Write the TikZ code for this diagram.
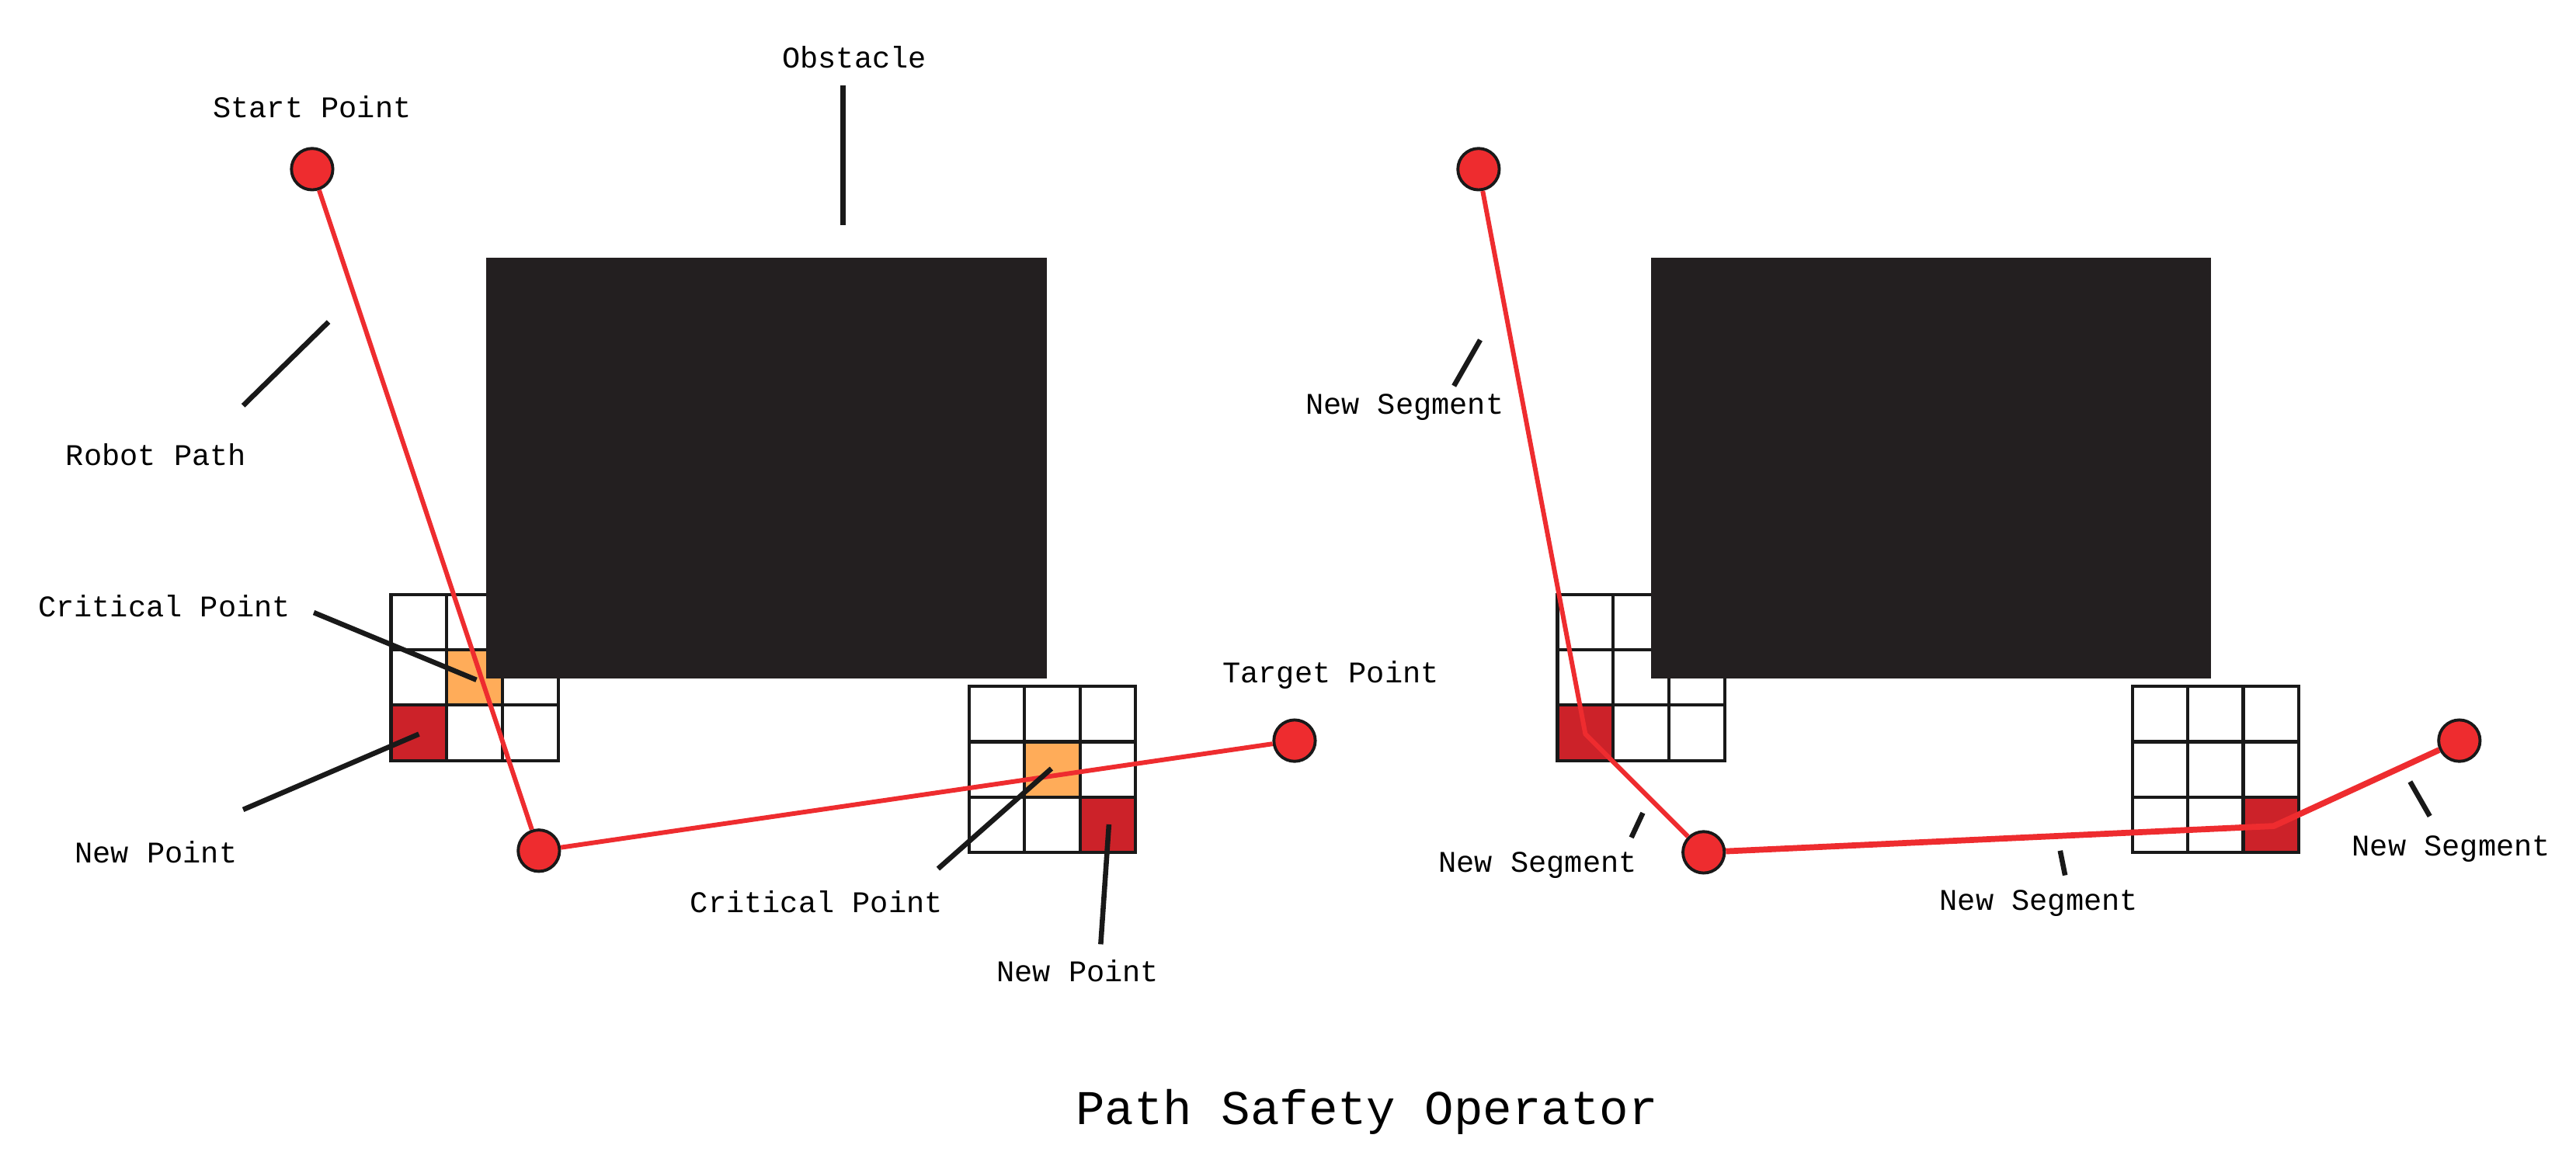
\documentclass[tikz,border=0pt]{standalone}
\usepackage{fontspec}
\setmainfont{Liberation Mono}
\begin{document}
\begin{tikzpicture}[x=0.25mm,y=-0.25mm,
  obst/.style={fill=black!88!red!60!black,draw=none},
  cell/.style={draw=black!90,line width=1.4pt},
  crit/.style={fill=orange!60!red!10!yellow!70!orange,fill=orange!65},
  newp/.style={fill=red!75!black},
  path/.style={draw=red!85!black!90,line width=2pt},
  pt/.style={circle,fill=red!85!black!90,draw=black!90,line width=1.3pt,minimum size=6.3mm,inner sep=0pt},
  lead/.style={draw=black!90,line width=2.2pt},
  lab/.style={font=\fontsize{13}{15}\selectfont}]
\useasboundingbox (0,0) rectangle (1568,710);
\definecolor{crit}{HTML}{F7A560}
\definecolor{newc}{HTML}{CC2229}
\definecolor{pathc}{HTML}{EE2C2F}
\definecolor{obc}{HTML}{231F20}
% ---------- left panel ----------
\fill[crit] (272,396) rectangle (306,430);
\fill[newc] (238,430) rectangle (272,463);
\foreach \i in {0,1,2} \foreach \j in {0,1,2}
  \draw[cell] (238+34*\i,362+33.7*\j) rectangle ++(34,33.7);
\fill[crit] (624,452) rectangle (657,485);
\fill[newc] (657,485) rectangle (691,519);
\foreach \i in {0,1,2} \foreach \j in {0,1,2}
  \draw[cell] (590+33.7*\i,418+33.7*\j) rectangle ++(33.7,33.7);
\fill[obc] (296,157) rectangle (637,413);
\node[pt,fill=pathc] (s1) at (190,103) {};
\node[pt,fill=pathc] (m1) at (328,518) {};
\node[pt,fill=pathc] (t1) at (788,451) {};
\draw[line width=2pt,pathc] (s1) -- (m1) -- (t1);
\node[lab] (lobs) at (520,35) {Obstacle};
\coordinate (ob1) at (513,52); \coordinate (ob2) at (513,137);
\draw[lead] (ob1) -- (ob2);
\node[lab] (lsp) at (190,65) {Start Point};
\node[lab] (lrp) at (95,277) {Robot Path};
\coordinate (rp1) at (148,247); \coordinate (rp2) at (200,196);
\draw[lead] (rp1) -- (rp2);
\node[lab] (lcp1) at (100,369) {Critical Point};
\coordinate (cp1a) at (191,373); \coordinate (cp1b) at (290,414);
\draw[lead] (cp1a) -- (cp1b);
\node[lab] (lnp1) at (95,519) {New Point};
\coordinate (np1a) at (148,493); \coordinate (np1b) at (255,447);
\draw[lead] (np1a) -- (np1b);
\node[lab] (ltp) at (810,411) {Target Point};
\node[lab] (lcp2) at (497,549) {Critical Point};
\coordinate (cp2a) at (571,529); \coordinate (cp2b) at (640,468);
\draw[lead] (cp2a) -- (cp2b);
\node[lab] (lnp2) at (656,591) {New Point};
\coordinate (np2a) at (670,575); \coordinate (np2b) at (675,502);
\draw[lead] (np2a) -- (np2b);
% ---------- right panel ----------
\fill[newc] (948,430) rectangle (982,463);
\foreach \i in {0,1,2} \foreach \j in {0,1,2}
  \draw[cell] (948+34*\i,362+33.7*\j) rectangle ++(34,33.7);
\fill[newc] (1366,485) rectangle (1399,519);
\foreach \i in {0,1,2} \foreach \j in {0,1,2}
  \draw[cell] (1298+33.7*\i,418+33.7*\j) rectangle ++(33.7,33.7);
\fill[obc] (1005,157) rectangle (1346,413);
\node[pt,fill=pathc] (s2) at (900,103) {};
\node[pt,fill=pathc] (m2) at (1037,519) {};
\node[pt,fill=pathc] (t2) at (1497,451) {};
\coordinate (k1) at (965,447); \coordinate (k2) at (1384,503);
\draw[line width=2pt,pathc,line join=round] (s2) -- (k1) -- (m2);
\draw[line width=2.6pt,pathc,line join=round] (m2) -- (k2) -- (t2);
\node[lab] (ns1) at (855,248) {New Segment};
\coordinate (ns1a) at (885,235); \coordinate (ns1b) at (901,207);
\draw[lead] (ns1a) -- (ns1b);
\node[lab] (ns2) at (936,527) {New Segment};
\coordinate (ns2a) at (993,510); \coordinate (ns2b) at (1000,495);
\draw[lead] (ns2a) -- (ns2b);
\node[lab] (ns3) at (1241,550) {New Segment};
\coordinate (ns3a) at (1257,533); \coordinate (ns3b) at (1254,518);
\draw[lead] (ns3a) -- (ns3b);
\node[lab] (ns4) at (1492,517) {New Segment};
\coordinate (ns4a) at (1479,497); \coordinate (ns4b) at (1467,476);
\draw[lead] (ns4a) -- (ns4b);
\node[font=\fontsize{21}{25}\selectfont] (title) at (832,677) {Path Safety Operator};
\end{tikzpicture}
\end{document}
